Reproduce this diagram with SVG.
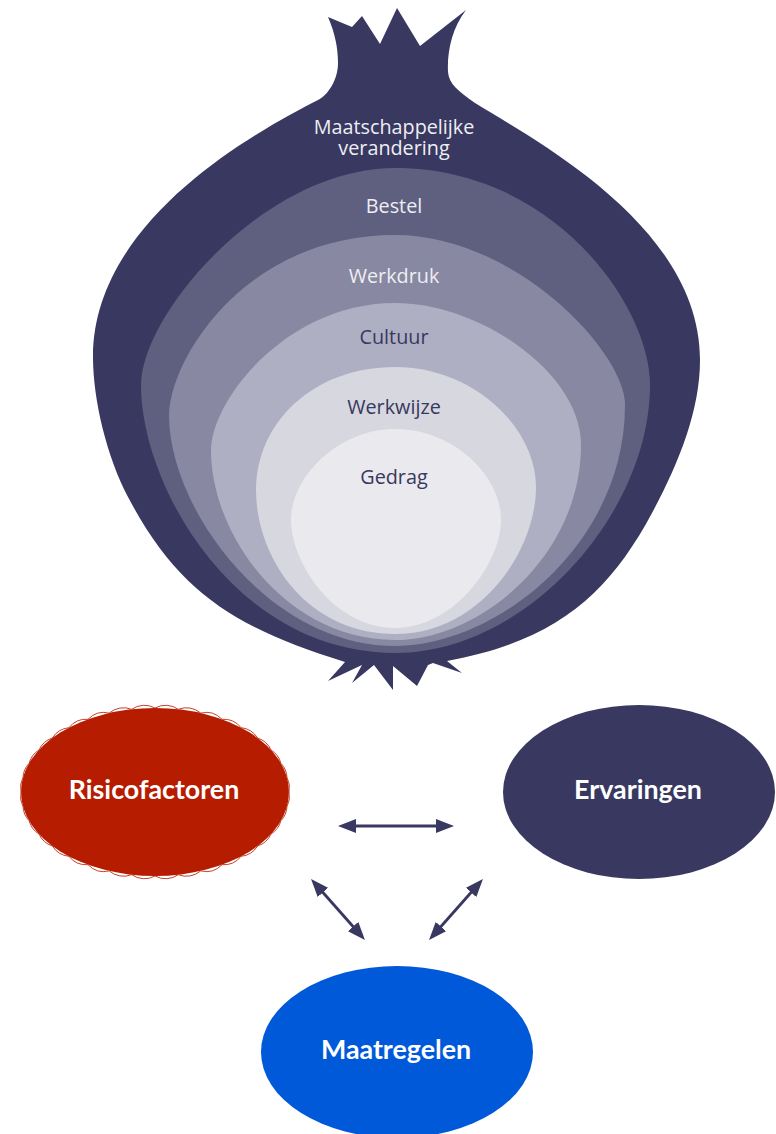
<svg xmlns="http://www.w3.org/2000/svg" width="776" height="1134" viewBox="0 0 776 1134">
<style>
.lbl{font-family:"Open Sans","Noto Sans",sans-serif;font-size:19.8px;text-anchor:middle}
.lt{fill:#eeeef3}.dk{fill:#383860}
.big{font-family:Lato,"Liberation Sans",sans-serif;font-weight:700;font-size:26.8px;fill:#fff;text-anchor:middle}
.conn{stroke:#383860;stroke-width:2.8;fill:none;marker-start:url(#ah);marker-end:url(#ah)}
</style>
<defs>
<marker id="ah" markerUnits="userSpaceOnUse" markerWidth="18" markerHeight="14" refX="9" refY="7" orient="auto-start-reverse" viewBox="0 0 18 14"><path d="M0 0L18 7L0 14Z" fill="#383860"/></marker>
</defs>
<rect width="776" height="1134" fill="#fff"/>
<g id="onion">
<path id="layer-maatschappelijke" fill="#383860" d="M466 10C452 28 447 52 448 72C449 84 458 91 475 103C540 143 700 228 700 360C700 410 679 463 652 513C609 593 557 641 447 661L462 673L433 663L428 665L417 686L393 666L393 690L374 665L352 683L362 665L328 681L345 662C235 628 178 592 128 497C107 457 93 400 93 357C93 217 263 128.6 318 100C328 95 338 80 338 63C338 48 335 33 328 17L352 27L362 16L380 44L397 8L420 46Z"/>
<path id="layer-bestel" fill="#5f5f80" d="M395 168C554 168 650 306 650 385C650 513 527 653 395 653C235 653 141 486 141 385C141 314 265 168 395 168Z"/>
<path id="layer-werkdruk" fill="#8888a2" d="M395 235C515 235 625 352 625 405C625 545 496 646 395 646C270 646 169 510 169 415C169 362 243 235 395 235Z"/>
<path id="layer-cultuur" fill="#afafc3" d="M395 303C480 303 581 373 581 445C581 556 480 640 395 640C286 640 211 535 211 450C211 401 286 303 395 303Z"/>
<path id="layer-werkwijze" fill="#d7d7df" d="M395 367C474 367 536 428 536 487C536 552 479 634 395 634C306 634 256 557 256 490C256 422 314 367 395 367Z"/>
<path id="layer-gedrag" fill="#e9e9ee" d="M395 429C454 429 501 476 501 520C501 563 454 628 395 628C334 628 291 563 291 520C291 476 339 429 395 429Z"/>
<text class="lbl lt" x="394" y="134">Maatschappelijke</text>
<text class="lbl lt" x="394" y="155">verandering</text>
<text class="lbl lt" x="394" y="213">Bestel</text>
<text class="lbl lt" x="394" y="283">Werkdruk</text>
<text class="lbl dk" x="394" y="344">Cultuur</text>
<text class="lbl dk" x="394" y="414">Werkwijze</text>
<text class="lbl dk" x="394" y="484">Gedrag</text>
</g>
<g id="connectors">
<line class="conn" x1="347" y1="826" x2="445" y2="826"/>
<line class="conn" x1="317" y1="885.7" x2="359" y2="933.3"/>
<line class="conn" x1="477" y1="885.7" x2="435" y2="933.3"/>
</g>
<g id="risicofactoren">
<ellipse cx="155" cy="792" rx="134" ry="84" fill="#b51c00"/>
<path fill="none" stroke="#c4402a" stroke-width="1" d="M289 792A22 22 0 0 1 287 806.6A22 22 0 0 1 280.9 820.7A22 22 0 0 1 271 834A22 22 0 0 1 257.6 846A22 22 0 0 1 241.1 856.3A22 22 0 0 1 222 864.7A22 22 0 0 1 200.8 870.9A22 22 0 0 1 178.3 874.7A22 22 0 0 1 155 876A22 22 0 0 1 131.7 874.7A22 22 0 0 1 109.2 870.9A22 22 0 0 1 88 864.7A22 22 0 0 1 68.9 856.3A22 22 0 0 1 52.4 846A22 22 0 0 1 39 834A22 22 0 0 1 29.1 820.7A22 22 0 0 1 23 806.6A22 22 0 0 1 21 792A22 22 0 0 1 23 777.4A22 22 0 0 1 29.1 763.3A22 22 0 0 1 39 750A22 22 0 0 1 52.4 738A22 22 0 0 1 68.9 727.7A22 22 0 0 1 88 719.3A22 22 0 0 1 109.2 713.1A22 22 0 0 1 131.7 709.3A22 22 0 0 1 155 708A22 22 0 0 1 178.3 709.3A22 22 0 0 1 200.8 713.1A22 22 0 0 1 222 719.3A22 22 0 0 1 241.1 727.7A22 22 0 0 1 257.6 738A22 22 0 0 1 271 750A22 22 0 0 1 280.9 763.3A22 22 0 0 1 287 777.4A22 22 0 0 1 289 792Z"/>
<text class="big" x="154" y="798.5">Risicofactoren</text>
</g>
<g id="ervaringen">
<ellipse cx="639" cy="792" rx="136" ry="87" fill="#383860"/>
<text class="big" x="638" y="798.5">Ervaringen</text>
</g>
<g id="maatregelen">
<ellipse cx="397" cy="1052" rx="136" ry="86" fill="#0059d9"/>
<text class="big" x="396" y="1058.5">Maatregelen</text>
</g>
</svg>
